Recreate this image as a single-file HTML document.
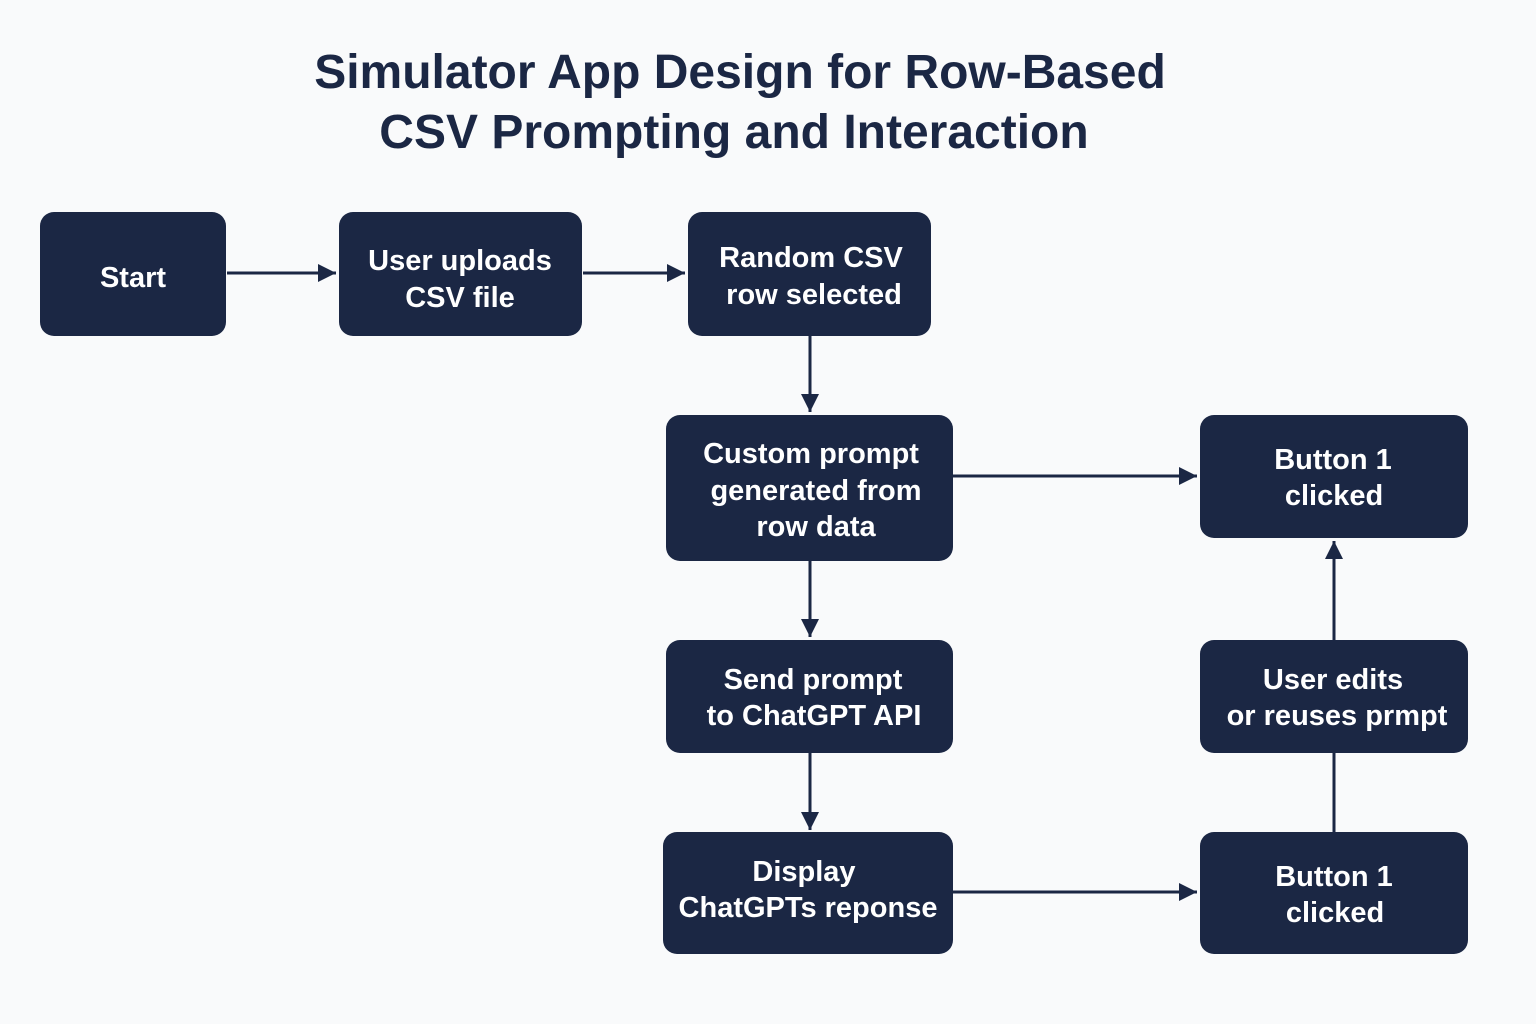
<!DOCTYPE html>
<html><head><meta charset="utf-8"><style>
html,body{margin:0;padding:0;background:#f9fafb;}
svg{display:block}
text{font-family:"Liberation Sans",sans-serif;fill:#fff;font-size:29px;font-weight:bold;text-anchor:middle;}
.t{fill:#1b2744;font-size:48px;font-weight:bold;}
</style></head><body>
<svg width="1536" height="1024" viewBox="0 0 1536 1024">
<defs>
<marker id="b" viewBox="0 0 10 10" markerWidth="18" markerHeight="18" refX="10" refY="5" orient="auto" markerUnits="userSpaceOnUse"><path d="M0,0 L10,5 L0,10 z" fill="#1b2744"/></marker></defs>
<rect width="1536" height="1024" fill="#f9fafb"/>
<text class="t" x="740" y="88">Simulator App Design for Row-Based</text>
<text class="t" x="734" y="148">CSV Prompting and Interaction</text>
<g fill="#1b2744">
<rect x="40" y="212" width="186" height="124" rx="14"/>
<rect x="339" y="212" width="243" height="124" rx="14"/>
<rect x="688" y="212" width="243" height="124" rx="14"/>
<rect x="666" y="415" width="287" height="146" rx="14"/>
<rect x="666" y="640" width="287" height="113" rx="14"/>
<rect x="663" y="832" width="290" height="122" rx="14"/>
<rect x="1200" y="415" width="268" height="123" rx="14"/>
<rect x="1200" y="640" width="268" height="113" rx="14"/>
<rect x="1200" y="832" width="268" height="122" rx="14"/>
</g>
<g stroke="#1b2744" stroke-width="3" fill="none" marker-end="url(#b)">
<line x1="227" y1="273" x2="336" y2="273"/>
<line x1="583" y1="273" x2="685" y2="273"/>
<line x1="810" y1="336" x2="810" y2="412"/>
<line x1="953" y1="476" x2="1197" y2="476"/>
<line x1="810" y1="561" x2="810" y2="637"/>
<line x1="810" y1="753" x2="810" y2="830"/>
<line x1="953" y1="892" x2="1197" y2="892"/>
<line x1="1334" y1="640" x2="1334" y2="541"/>
</g>
<line x1="1334" y1="832" x2="1334" y2="753" stroke="#1b2744" stroke-width="3"/>
<text x="133" y="287">Start</text>
<text x="460" y="270">User uploads</text><text x="460" y="307">CSV file</text>
<text x="811" y="267">Random CSV</text><text x="814" y="304">row selected</text>
<text x="811" y="463">Custom prompt</text><text x="816" y="500">generated from</text><text x="816" y="536">row data</text>
<text x="813" y="689">Send prompt</text><text x="814" y="725">to ChatGPT API</text>
<text x="804" y="881">Display</text><text x="808" y="917">ChatGPTs reponse</text>
<text x="1333" y="469">Button 1</text><text x="1334" y="505">clicked</text>
<text x="1333" y="689">User edits</text><text x="1337" y="725">or reuses prmpt</text>
<text x="1334" y="886">Button 1</text><text x="1335" y="922">clicked</text>
</svg>
</body></html>
